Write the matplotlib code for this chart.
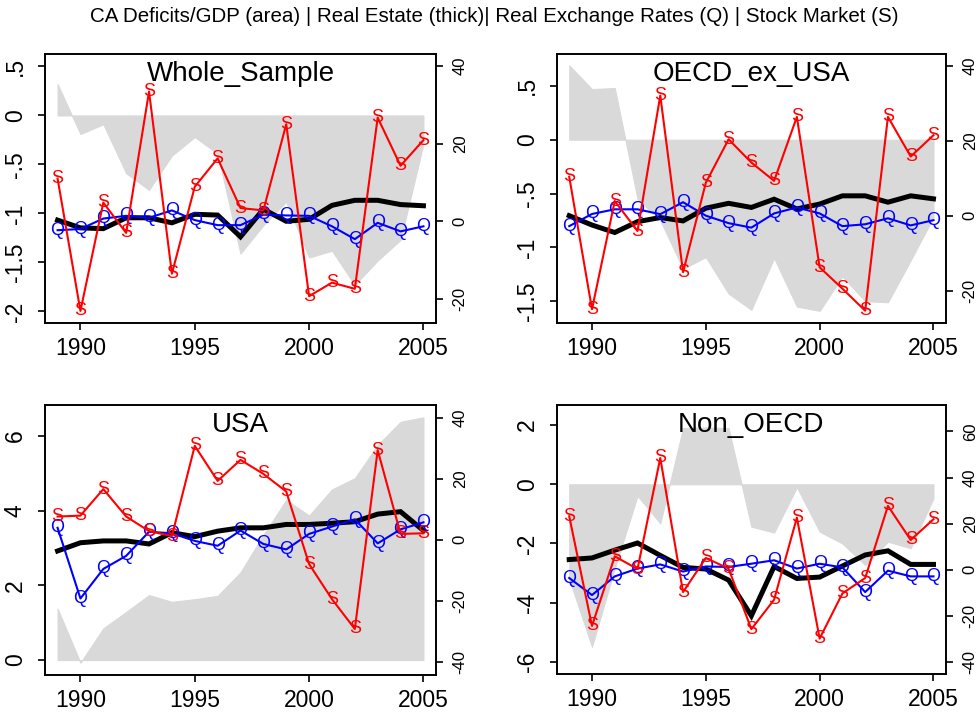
import matplotlib
matplotlib.use("Agg")
import matplotlib.pyplot as plt
from matplotlib.ticker import FixedLocator, FixedFormatter

plt.rcParams['font.family'] = ['Liberation Sans', 'DejaVu Sans']
plt.rcParams['axes.unicode_minus'] = False

years = list(range(1989, 2006))

panel_names = ["Whole_Sample", "OECD_ex_USA", "USA", "Non_OECD"]

# CA deficits / GDP (left axis, area)
ca_whole = [0.32, -0.19, -0.09, -0.59, -0.76, -0.41, -0.22, -0.39, -1.41, -1.12, -0.88,
            -1.45, -1.38, -1.73, -1.48, -1.27, -0.29]
ca_oecd = [0.69, 0.47, 0.48, -0.55, -0.75, -1.20, -1.09, -1.43, -1.58, -1.10, -1.55,
           -1.59, -1.27, -1.50, -1.51, -1.12, -0.72]
ca_usa = [1.38, -0.07, 0.85, 1.29, 1.74, 1.56, 1.63, 1.72, 2.35, 3.35, 4.29,
          3.87, 4.57, 4.87, 5.76, 6.38, 6.50]
ca_non = [-3.2, -5.49, -2.84, -0.39, -1.32, 1.90, 1.92, 1.90, -1.43, -1.63, -0.10,
          -1.60, -2.00, -2.73, -1.94, -2.16, -0.47]

# Real estate (right axis, thick black)
re_whole = [0.3, -1.7, -1.9, 0.9, 0.9, -0.4, 1.8, 1.6, -4.0, 3.1, 0.0, 0.5, 4.1, 5.4, 5.4, 4.3, 4.0]
re_oecd = [0.0, -2.5, -4.5, -1.6, -0.5, -1.4, 2.0, 3.3, 2.2, 4.4, 1.8, 3.1, 5.3, 5.3, 3.6, 5.3, 4.5]
re_usa = [-3.7, -1.0, -0.4, -0.4, -1.4, 2.3, 1.0, 2.8, 3.9, 3.9, 5.0, 5.0, 5.4, 5.9, 8.4, 9.2, 3.0]
re_non = [4.4, 5.1, 8.5, 11.6, 6.2, 1.0, 0.3, -4.5, -20.0, 1.4, -3.8, -3.2, 1.6, 6.4, 8.2, 2.3, 2.3]

# Real exchange rates (Q)
q_whole = [-2.3, -2.0, 0.7, 1.4, 0.9, 2.8, 0.3, -1.0, -1.0, 1.7, 1.5, 1.4, -1.3, -4.6, -0.4, -2.6, -1.3]
q_oecd = [-2.8, 0.45, 1.7, 1.7, 0.4, 3.6, 0.0, -2.0, -3.2, 0.6, 2.2, 0.6, -2.8, -2.3, -0.7, -2.6, -1.2]
q_usa = [3.9, -19.3, -9.6, -5.3, 2.6, 2.1, -0.4, -2.0, 3.0, -1.4, -3.2, 1.9, 4.3, 6.7, -1.2, 3.4, 5.7]
q_non = [-3.6, -11.0, -2.9, 0.5, 2.3, -0.8, 1.4, 1.2, 2.6, 4.1, 0.5, 2.6, 1.0, -9.7, -0.4, -2.9, -2.9]

# Stock market (S)
s_whole = [11.0, -23.1, 4.8, -3.0, 33.4, -13.5, 8.9, 16.2, 3.4, 2.8, 25.0, -19.3, -15.8, -17.4, 26.7, 14.3, 20.9]
s_oecd = [10.4, -25.0, 3.9, -4.1, 32.1, -15.1, 8.8, 20.4, 14.2, 9.3, 26.4, -13.8, -19.5, -25.4, 26.4, 15.8, 21.5]
s_usa = [7.6, 7.9, 16.6, 7.6, 2.8, 1.2, 30.8, 19.3, 26.2, 21.6, 15.8, -8.0, -19.5, -29.3, 29.4, 1.9, 2.1]
s_non = [23.2, -24.4, 5.8, 0.3, 48.5, -9.7, 5.1, 0.5, -25.8, -13.0, 22.6, -29.9, -10.3, -3.6, 27.7, 12.9, 21.9]

left_ticks = [[0.5, 0, -0.5, -1, -1.5, -2], [0.5, 0, -0.5, -1, -1.5], [0, 2, 4, 6], [2, 0, -2, -4, -6]]
left_labels = [[".5", "0", "-.5", "-1", "-1.5", "-2"], [".5", "0", "-.5", "-1", "-1.5"],
               ["0", "2", "4", "6"], ["2", "0", "-2", "-4", "-6"]]
right_ticks = [[40, 20, 0, -20], [40, 20, 0, -20], [40, 20, 0, -20, -40], [60, 40, 20, 0, -20, -40]]
x_ticks = [1990, 1995, 2000, 2005]

main_title = "CA Deficits/GDP (area) | Real Estate (thick)| Real Exchange Rates (Q) | Stock Market (S)"

ca_all = [ca_whole, ca_oecd, ca_usa, ca_non]
re_all = [re_whole, re_oecd, re_usa, re_non]
q_all = [q_whole, q_oecd, q_usa, q_non]
s_all = [s_whole, s_oecd, s_usa, s_non]

W, H = 979, 716
fig = plt.figure(figsize=(W / 100, H / 100), dpi=100)

boxes = [(45, 54, 436, 323), (556.7, 54, 946, 322.7), (45, 405, 436, 675), (556.7, 405, 946, 674.3)]
left_lims = [(-2.118, 0.627), (-1.70, 0.796), (-0.40, 6.83), (-6.42, 2.68)]
right_lims = [(-26.2, 43.08), (-28.6, 43.2), (-44.4, 44.2), (-45.4, 71.5)]

lw_box = 1.2
mark_size = 13
for i in range(4):
    x0, y0, x1, y1 = boxes[i]
    ax = fig.add_axes([x0 / W, 1 - y1 / H, (x1 - x0) / W, (y1 - y0) / H])
    ax.fill_between(years, 0, ca_all[i], color='#D9D9D9', linewidth=0.8, edgecolor='#D9D9D9')
    ax.set_xlim(1988.45, 2005.55)
    ax.set_ylim(*left_lims[i])
    ax.yaxis.set_major_locator(FixedLocator(left_ticks[i]))
    ax.yaxis.set_major_formatter(FixedFormatter(left_labels[i]))
    ax.set_xticks(x_ticks)
    ax.set_xticklabels([str(t) for t in x_ticks])
    ax.tick_params(axis='x', labelsize=16.5, length=5, width=lw_box, pad=5)
    ax.tick_params(axis='y', labelsize=16.5, length=5, width=lw_box, pad=8)
    for lab in ax.get_yticklabels():
        lab.set_rotation(90)
        lab.set_va('center')
        lab.set_ha('right')
    for sp in ax.spines.values():
        sp.set_linewidth(lw_box)

    ax2 = ax.twinx()
    ax2.set_ylim(*right_lims[i])
    ax2.yaxis.set_major_locator(FixedLocator(right_ticks[i]))
    ax2.set_yticklabels([str(t) for t in right_ticks[i]])
    ax2.tick_params(axis='y', labelsize=12, length=5, width=lw_box, pad=7)
    for lab in ax2.get_yticklabels():
        lab.set_rotation(90)
        lab.set_va('center')
        lab.set_ha('left')
    for sp in ax2.spines.values():
        sp.set_linewidth(lw_box)

    ax2.text(0.5, 0.975, panel_names[i], transform=ax2.transAxes, ha='center', va='top',
             fontsize=20, zorder=1)
    ax2.plot(years, re_all[i], color='black', linewidth=3.6, zorder=2, solid_joinstyle='miter')
    ax2.plot(years, q_all[i], color='#0000FF', linewidth=1.5, zorder=3)
    for xv, yv in zip(years, q_all[i]):
        ax2.text(xv, yv, 'Q', color='#0000FF', fontsize=mark_size, ha='center', va='center', zorder=3)
    ax2.plot(years, s_all[i], color='#FF0000', linewidth=1.5, zorder=4)
    for xv, yv in zip(years, s_all[i]):
        ax2.text(xv, yv, 'S', color='#FF0000', fontsize=mark_size, ha='center', va='center', zorder=4)

fig.text(0.505, 1 - 17 / H, main_title, ha='center', va='center', fontsize=14.8)

fig.savefig("out.png", dpi=100)
